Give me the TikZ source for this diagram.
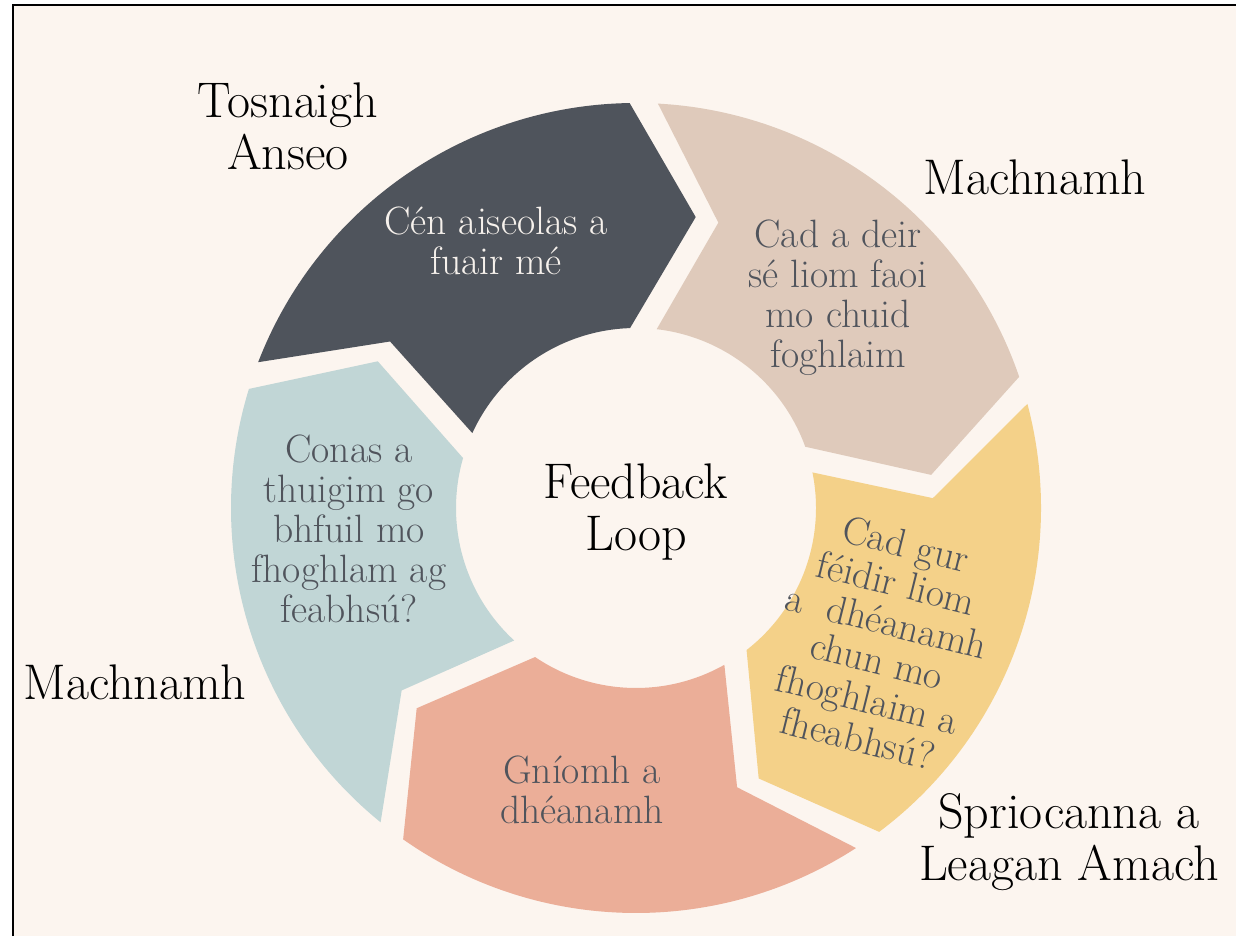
\documentclass[tikz,border=0pt]{standalone}
\usepackage{fontspec}
\usepackage{tikz}
\usetikzlibrary{positioning}

\definecolor{bgcream}{HTML}{FCF5EF}
\definecolor{segdark}{HTML}{4F545C}
\definecolor{segbeige}{HTML}{DFCABB}
\definecolor{segyellow}{HTML}{F4D189}
\definecolor{segsalmon}{HTML}{EBAE98}
\definecolor{segblue}{HTML}{C1D6D6}
\definecolor{txtgray}{HTML}{50545C}
\definecolor{txtlight}{HTML}{F6F1EC}

\tikzset{
  outlabel/.style={align=center, font=\fontsize{28.5}{29.5}\selectfont, text=black, inner sep=0pt},
  seglabel/.style={align=center, font=\fontsize{22.5}{22.8}\selectfont, text=txtgray, inner sep=0pt}
}

\begin{document}
\begin{tikzpicture}[x=0.02cm, y=0.02cm]
    \useasboundingbox (0,0) rectangle (1236,936);
    \fill[white] (0,0) rectangle (1236,936);
    \fill[bgcream] (13,0) rectangle (1236,931);
    \draw[line width=1.2pt] (13,0) -- (13,931) -- (1236,931);

    % the five arrows of the cycle
    \begin{scope}[shift={(636,428)}]
        \foreach \t/\col in {158.9/segdark, 86.9/segbeige, 14.9/segyellow, -57.1/segsalmon, -129.1/segblue}
            \fill[\col] (\t:405) arc[start angle=\t, end angle=\t-68, radius=405]
                -- (\t-80.5:297) -- (\t-67:180)
                arc[start angle=\t-67, end angle=\t-3.5, radius=180]
                -- (\t-13:297) -- cycle;
    \end{scope}

    \node[outlabel] (loop) at (636,424) {Feedback\\Loop};
    \node[outlabel] (start) at (288,810) {Tosnaigh\\Anseo};
    \node[outlabel, anchor=base] (reflectA) at (1035,741) {Machnamh};
    \node[outlabel, anchor=base] (reflectB) at (135,236) {Machnamh};
    \node[outlabel] (goals) at (1069,94) {Spriocanna a\\Leagan Amach};

    \node[seglabel, text=txtlight] (got) at (496,695) {Cén aiseolas a\\fuair mé};
    \node[seglabel] (says) at (838,638) {Cad a deir\\sé liom faoi\\mo chuid\\foghlaim};
    \node[seglabel, rotate=-14] (improve) at (882,295) {Cad gur\\féidir liom\\a\ \ dhéanamh\\chun mo\\fhoghlaim a\\fheabhsú?};
    \node[seglabel] (act) at (582,146) {Gníomh a\\dhéanamh};
    \node[seglabel] (know) at (349,407) {Conas a\\thuigim go\\bhfuil mo\\fhoghlam ag\\feabhsú?};
\end{tikzpicture}
\end{document}
